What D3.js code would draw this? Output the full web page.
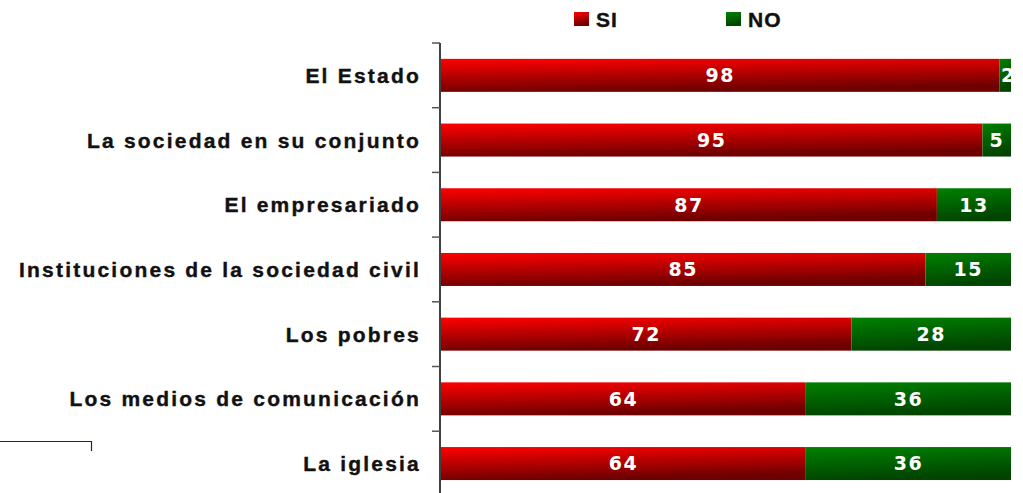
<!DOCTYPE html>
<html><head><meta charset="utf-8">
<script src="https://cdn.jsdelivr.net/npm/d3@7"></script>
<style>body{margin:0;background:#fff}svg{display:block}</style>
</head><body>
<script>
const categories = ["El Estado","La sociedad en su conjunto","El empresariado","Instituciones de la sociedad civil","Los pobres","Los medios de comunicación","La iglesia"];
const siValues = [98,95,87,85,72,64,64];
const noValues = [2,5,13,15,28,36,36];
const seriesNames = ["SI","NO"];

const W=1023,H=493;
const svg=d3.select("body").append("svg").attr("width",W).attr("height",H);
const defs=svg.append("defs");
function grad(id,c1,c2){
  const g=defs.append("linearGradient").attr("id",id).attr("x1","0").attr("y1","0").attr("x2","0.25").attr("y2","1");
  g.append("stop").attr("offset","0%").attr("stop-color",c1);
  g.append("stop").attr("offset","100%").attr("stop-color",c2);
}
grad("gRed","#ff0000","#6e0000");
grad("gGreen","#008200","#004400");
defs.append("clipPath").attr("id","plotClip").append("rect").attr("x",440).attr("y",0).attr("width",572).attr("height",H);

const x=d3.scaleLinear().domain([0,100]).range([441,1011]);
const y=d3.scaleBand().domain(categories).range([43,43+64.7*7]).paddingInner(0.49).paddingOuter(0.245);

const numFont="'DejaVu Sans', Verdana, sans-serif";
const labFont="'Liberation Sans', Arial, sans-serif";
const plot=svg.append("g").attr("clip-path","url(#plotClip)");
const rows=categories.map((c,i)=>({c,si:siValues[i],no:noValues[i]}));
const bh=y.bandwidth();
plot.selectAll(".si").data(rows).join("rect").attr("x",x(0)).attr("y",d=>y(d.c)).attr("width",d=>x(d.si)-x(0)).attr("height",bh).attr("fill","url(#gRed)");
plot.selectAll(".no").data(rows).join("rect").attr("x",d=>x(d.si)).attr("y",d=>y(d.c)).attr("width",d=>x(d.si+d.no)-x(d.si)).attr("height",bh).attr("fill","url(#gGreen)");
plot.selectAll(".tsi").data(rows).join("text").attr("x",d=>(x(0)+x(d.si))/2).attr("y",d=>y(d.c)+bh/2).attr("dy","0.36em")
  .attr("text-anchor","middle").attr("fill","#fff").attr("font-family",numFont).attr("font-weight","bold").attr("font-size",19).attr("letter-spacing",1.5).text(d=>d.si);
plot.selectAll(".tno").data(rows).join("text").attr("x",d=>(x(d.si)+x(d.si+d.no))/2+(d.no<4?3:0)).attr("y",d=>y(d.c)+bh/2).attr("dy","0.36em")
  .attr("text-anchor","middle").attr("fill","#fff").attr("font-family",numFont).attr("font-weight","bold").attr("font-size",19).attr("letter-spacing",1.5).text(d=>d.no);

// axis
const ax=svg.append("g").attr("transform","translate(440,0)");
ax.append("line").attr("x1",0).attr("x2",0).attr("y1",43).attr("y2",H).attr("stroke","#000").attr("stroke-width",1.5);
const tickYs=d3.range(8).map(i=>43+64.7*i);
ax.selectAll(".tk").data(tickYs).join("line").attr("x1",-8).attr("x2",0).attr("y1",d=>d).attr("y2",d=>d).attr("stroke","#555").attr("stroke-width",1.5);
const cl=svg.selectAll(".cl").data(categories).join("text").attr("x",421).attr("y",d=>y(d)+bh/2).attr("dy","0.36em")
  .attr("text-anchor","end").attr("font-family",labFont).attr("font-weight","bold").attr("font-size",21)
  .attr("fill","#111").attr("stroke","#111").attr("stroke-width",0.4).text(d=>d);
// fit letter spacing so longest label spans ~402px
const longest=cl.filter(d=>d==="Instituciones de la sociedad civil").node();
const base=longest.getComputedTextLength();
const ls=Math.max(0,Math.min(3,(402-base)/34));
cl.attr("letter-spacing",ls);

// legend
const leg=[{n:seriesNames[0],x:574,f:"url(#gRed)"},{n:seriesNames[1],x:726,f:"url(#gGreen)"}];
const lg=svg.selectAll(".lg").data(leg).join("g");
lg.append("rect").attr("x",d=>d.x).attr("y",12).attr("width",15).attr("height",14).attr("fill",d=>d.f);
lg.append("text").attr("x",d=>d.x+22).attr("y",19).attr("dy","0.36em").attr("font-family",labFont).attr("font-weight","bold").attr("font-size",21).attr("letter-spacing",1)
  .attr("fill","#111").attr("stroke","#111").attr("stroke-width",0.4).text(d=>d.n);

// decorative bracket
svg.append("path").attr("d","M0,441.5H91.5V451").attr("fill","none").attr("stroke","#1a1a80").attr("stroke-width",1.2);
</script>
</body></html>
